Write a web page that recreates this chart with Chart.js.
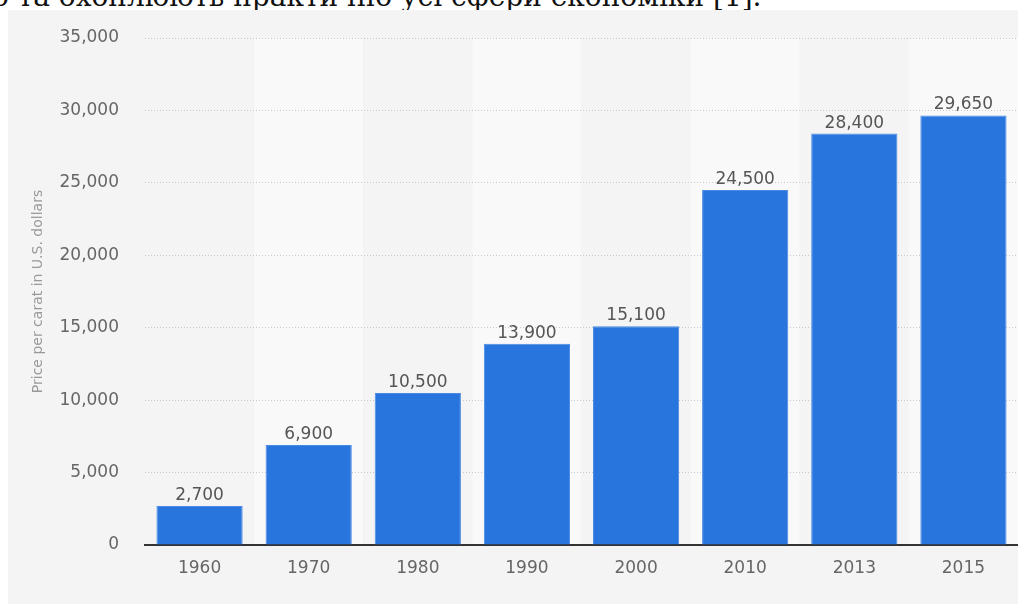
<!DOCTYPE html>
<html>
<head>
<meta charset="utf-8">
<script src="https://cdn.jsdelivr.net/npm/chart.js@4"></script>
<style>
  body { margin: 0; background: #fff; width: 1018px; height: 604px; overflow: hidden; position: relative; }
  #cut { position: absolute; left: -8px; top: -18px; font: 28px 'DejaVu Serif', serif; line-height: 30px; color: #111; white-space: nowrap; }
  #panel { position: absolute; left: 8px; top: 10px; width: 1010px; height: 594px; background: #f4f4f4; }
</style>
</head>
<body>
<div id="cut">о та охоплюють практично усі сфери економіки [1].</div>
<div id="panel"><canvas id="myChart" width="1010" height="594"></canvas></div>
<script>
const years = ['1960', '1970', '1980', '1990', '2000', '2010', '2013', '2015'];
const prices = [2700, 6900, 10500, 13900, 15100, 24500, 28400, 29650];
const yTicks = [0, 5000, 10000, 15000, 20000, 25000, 30000, 35000];

const fmt = v => v.toLocaleString('en-US');

// alternating column shading behind the bars
const bands = {
    id: 'bands',
    beforeDraw(chart) {
        const { ctx, chartArea: a, scales: { x } } = chart;
        const w = x.width / years.length;
        ctx.save();
        years.forEach((y, i) => {
            const cx = x.getPixelForValue(i);
            ctx.fillStyle = i % 2 ? '#f9f9f9' : '#f4f4f4';
            ctx.fillRect(cx - w / 2, a.top, w, a.bottom - a.top);
        });
        ctx.restore();
    }
};

// value on top of each bar
const barLabels = {
    id: 'barLabels',
    afterDatasetsDraw(chart) {
        const { ctx } = chart;
        const meta = chart.getDatasetMeta(0);
        ctx.save();
        ctx.font = '17px "DejaVu Sans"';
        ctx.fillStyle = '#555';
        ctx.textAlign = 'center';
        ctx.textBaseline = 'bottom';
        meta.data.forEach((bar, i) => {
            ctx.fillText(fmt(prices[i]), bar.x, bar.y - 2);
        });
        ctx.restore();
    }
};

const ctx = document.getElementById('myChart');

const myChart = new Chart(ctx, {
    type: 'bar',
    data: {
        labels: years,
        datasets: [{
            data: prices,
            backgroundColor: '#2876dd',
            borderColor: '#4a8ae3',
            borderWidth: 1,
            categoryPercentage: 1,
            barPercentage: 0.79
        }]
    },
    options: {
        responsive: false,
        animation: false,
        layout: { padding: { top: 28, left: 0, right: 0, bottom: 0 } },
        plugins: { legend: { display: false }, tooltip: { enabled: false } },
        scales: {
            x: {
                grid: { display: false },
                border: { display: true, color: '#333', width: 2 },
                ticks: { color: '#666', font: { family: 'DejaVu Sans', size: 17 }, padding: 5 },
                afterFit: s => { s.height = 59; }
            },
            y: {
                min: 0,
                max: 35000,
                afterBuildTicks: s => { s.ticks = yTicks.map(v => ({ value: v })); },
                grid: { color: '#c8c8c8', drawTicks: false },
                border: { display: false, dash: [1, 2] },
                ticks: { color: '#666', font: { family: 'DejaVu Sans', size: 17 }, padding: 26, callback: v => fmt(v) },
                title: { display: true, text: 'Price per carat in U.S. dollars', color: '#999', font: { family: 'DejaVu Sans', size: 14 }, padding: { top: 22, bottom: 0 } },
                afterFit: s => { s.width = 137; s.paddingTop = 0; s.paddingBottom = 0; }
            }
        }
    },
    plugins: [bands, barLabels]
});
</script>
</body>
</html>
